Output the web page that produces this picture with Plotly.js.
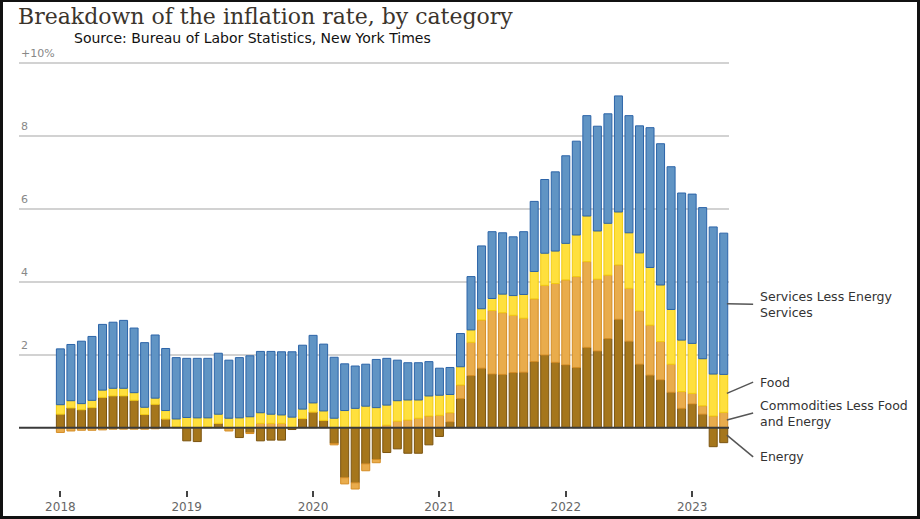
<!DOCTYPE html>
<html><head><meta charset="utf-8">
<script src="https://cdn.plot.ly/plotly-3.0.1.min.js"></script>
<style>
html,body{margin:0;padding:0;background:#fff;}
#wrap{position:relative;width:920px;height:519px;overflow:hidden;}
#chart{width:920px;height:519px;}
#frame{position:absolute;left:0;top:0;width:920px;height:519px;box-sizing:border-box;border-style:solid;border-color:#111;border-width:2px 3px 3px 3px;pointer-events:none;}
</style>
</head><body>
<div id="wrap"><div id="chart"></div><div id="frame"></div></div>
<script>
// Months (categories)
const months = [
 "2018-01","2018-02","2018-03","2018-04","2018-05","2018-06","2018-07","2018-08","2018-09","2018-10","2018-11","2018-12",
 "2019-01","2019-02","2019-03","2019-04","2019-05","2019-06","2019-07","2019-08","2019-09","2019-10","2019-11","2019-12",
 "2020-01","2020-02","2020-03","2020-04","2020-05","2020-06","2020-07","2020-08","2020-09","2020-10","2020-11","2020-12",
 "2021-01","2021-02","2021-03","2021-04","2021-05","2021-06","2021-07","2021-08","2021-09","2021-10","2021-11","2021-12",
 "2022-01","2022-02","2022-03","2022-04","2022-05","2022-06","2022-07","2022-08","2022-09","2022-10","2022-11","2022-12",
 "2023-01","2023-02","2023-03","2023-04"
];

// Contributions to inflation rate, percentage points
const energy = [
 0.37,0.54,0.49,0.55,0.83,0.87,0.87,0.75,0.36,0.64,0.24,0.02,
 -0.36,-0.38,0.02,0.12,-0.02,-0.27,-0.13,-0.36,-0.34,-0.34,-0.05,0.25,
 0.43,0.20,-0.43,-1.37,-1.51,-0.99,-0.87,-0.68,-0.58,-0.70,-0.70,-0.47,
 -0.24,0.16,0.80,1.43,1.63,1.47,1.46,1.51,1.52,1.81,1.99,1.79,
 1.72,1.65,2.20,2.10,2.44,2.97,2.37,1.74,1.44,1.31,0.97,0.53,
 0.65,0.37,-0.52,-0.41
];
const commodities = [
 -0.13,-0.09,-0.07,-0.07,-0.06,-0.04,-0.04,-0.04,-0.04,-0.03,0.00,0.00,
 0.00,0.00,0.00,0.00,-0.07,0.00,-0.03,0.12,0.12,0.12,0.00,0.00,
 0.00,0.00,-0.04,-0.17,-0.17,-0.19,-0.09,0.07,0.18,0.21,0.26,0.32,
 0.34,0.25,0.37,0.91,1.32,1.74,1.69,1.57,1.48,1.72,1.91,2.16,
 2.33,2.49,2.35,1.97,1.74,1.49,1.45,1.46,1.37,1.05,0.77,0.46,
 0.29,0.23,0.32,0.42
];
const food = [
 0.26,0.20,0.17,0.20,0.20,0.21,0.21,0.21,0.20,0.17,0.23,0.22,
 0.28,0.27,0.25,0.25,0.26,0.27,0.30,0.29,0.25,0.23,0.29,0.26,
 0.25,0.26,0.26,0.47,0.53,0.59,0.55,0.55,0.56,0.55,0.50,0.55,
 0.55,0.50,0.50,0.34,0.31,0.33,0.51,0.54,0.65,0.75,0.88,0.89,
 1.00,1.14,1.25,1.32,1.42,1.45,1.52,1.59,1.58,1.55,1.50,1.41,
 1.37,1.29,1.15,1.04
];
const services = [
 1.53,1.54,1.71,1.75,1.80,1.81,1.86,1.77,1.77,1.73,1.70,1.68,
 1.62,1.63,1.63,1.67,1.59,1.65,1.67,1.68,1.72,1.73,1.79,1.75,
 1.85,1.83,1.67,1.28,1.16,1.15,1.32,1.28,1.11,1.02,1.02,0.94,
 0.74,0.74,0.91,1.46,1.72,1.83,1.68,1.61,1.72,1.92,2.02,2.17,
 2.40,2.57,2.75,2.87,3.00,3.18,3.21,3.48,3.83,3.87,3.91,4.03,
 4.09,4.14,4.03,3.87
];

const yearTickVals = ["2018-01","2019-01","2020-01","2021-01","2022-01","2023-01"];
const yearTickText = ["2018","2019","2020","2021","2022","2023"];
const yTickVals = [2,4,6,8,10];
const yTickText = ["2","4","6","8","+10%"];

const seriesNames = ["Energy","Commodities Less Food and Energy","Food","Services Less Energy Services"];
const seriesLabels = ["Energy","Commodities Less Food<br>and Energy","Food","Services Less Energy<br>Services"];
const seriesData = [energy, commodities, food, services];
const fillColors = ["#A5761C","#E9AC4C","#FFE03D","#6094C4"];
const edgeColors = ["#7B5410","#D48D25","#F2CB12","#2C64A8"];
const labelY = [-0.80, 0.40, 1.25, 3.38];

const traces = seriesData.map((vals, k) => ({
  type: "bar",
  name: seriesNames[k],
  x: months,
  y: vals,
  width: 0.76,
  marker: {color: fillColors[k], line: {color: edgeColors[k], width: 1}},
  hoverinfo: "x+y+name"
}));

// legend connector start points: middle of each segment of the last bar
const last = months.length - 1;
function segMid(k) {
  let pos = 0, neg = 0, lo = 0, hi = 0;
  for (let j = 0; j <= k; j++) {
    const v = seriesData[j][last];
    if (v >= 0) { lo = pos; hi = pos + v; pos = hi; }
    else { hi = neg; lo = neg + v; neg = lo; }
  }
  return (lo + hi) / 2;
}

const shapes = [{
  type: "line", xref: "paper", yref: "y", x0: 0, x1: 1, y0: 0, y1: 0,
  line: {color: "#3a3a3a", width: 2}, layer: "above"
}];
const annotations = [];
seriesData.forEach((vals, k) => {
  shapes.push({
    type: "line", xref: "paper", yref: "y",
    x0: 0.997, x1: 1.034, y0: segMid(k), y1: labelY[k],
    line: {color: "#555", width: 1.5}, layer: "above"
  });
  annotations.push({
    xref: "paper", yref: "y", x: 1.041, y: labelY[k],
    xanchor: "left", yanchor: "middle", align: "left", showarrow: false,
    text: seriesLabels[k],
    font: {family: "DejaVu Sans, sans-serif", size: 12.5, color: "#333"}
  });
});
yTickVals.forEach((v, i) => {
  annotations.push({
    xref: "paper", yref: "y", x: 0, y: v, xshift: 0, yshift: 9,
    xanchor: "left", yanchor: "middle", showarrow: false,
    text: yTickText[i],
    font: {family: "DejaVu Sans, sans-serif", size: 11, color: "#888"}
  });
});
annotations.push({
  xref: "paper", yref: "paper", x: (72 - 19) / 710, y: 1, yshift: -3,
  xanchor: "left", yanchor: "bottom", showarrow: false,
  text: "Source: Bureau of Labor Statistics, New York Times",
  font: {family: "DejaVu Sans, Verdana, sans-serif", size: 14, color: "#111"}
});

const layout = {
  width: 920, height: 519,
  margin: {l: 19, r: 191, t: 45, b: 29, pad: 0},
  paper_bgcolor: "#fff", plot_bgcolor: "#fff",
  barmode: "relative",
  showlegend: false,
  title: {
    text: "Breakdown of the inflation rate, by category",
    xref: "container", yref: "container", x: 18 / 920, xanchor: "left",
    y: 1 - 16 / 519, yanchor: "middle",
    font: {family: "DejaVu Serif, serif", size: 22, color: "#3b342c"}
  },
  xaxis: {
    type: "category",
    range: [-3.93, 63.5],
    tickvals: yearTickVals, ticktext: yearTickText,
    ticks: "outside", ticklen: 6, tickwidth: 2, tickcolor: "#444",
    showgrid: false, showline: false, zeroline: false,
    tickfont: {family: "DejaVu Sans, sans-serif", size: 12, color: "#666"}
  },
  yaxis: {
    range: [-1.707, 10.485],
    tickvals: yTickVals,
    showticklabels: false,
    showgrid: true, gridcolor: "#d2d2d2", gridwidth: 2,
    zeroline: false, showline: false, ticks: ""
  },
  shapes: shapes,
  annotations: annotations
};

Plotly.newPlot("chart", traces, layout, {displayModeBar: false, staticPlot: true});
</script>
</body></html>
